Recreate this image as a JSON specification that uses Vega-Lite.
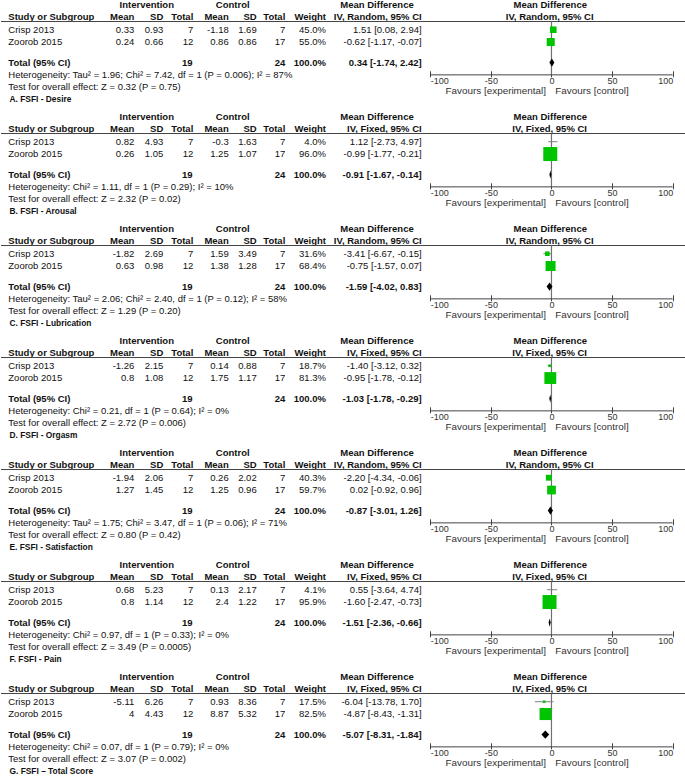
{
  "$schema": "https://vega.github.io/schema/vega-lite/v6.json",
  "padding": 0,
  "background": "white",
  "data": {"values": [
    {"panel":"A","kind":"study","row":"Crisp 2013","im":0.33,"isd":0.93,"inn":7,"cm":-1.18,"csd":1.69,"cn":7,"w":45.0,"md":1.51,"lo":0.08,"hi":2.94,"ci":"1.51 [0.08, 2.94]"},
    {"panel":"A","kind":"study","row":"Zoorob 2015","im":0.24,"isd":0.66,"inn":12,"cm":0.86,"csd":0.86,"cn":17,"w":55.0,"md":-0.62,"lo":-1.17,"hi":-0.07,"ci":"-0.62 [-1.17, -0.07]"},
    {"panel":"A","kind":"total","row":"Total (95% CI)","inn":19,"cn":24,"w":100,"md":0.34,"lo":-1.74,"hi":2.42,"ci":"0.34 [-1.74, 2.42]","method":"IV, Random, 95% CI","het":"Heterogeneity: Tau² = 1.96; Chi² = 7.42, df = 1 (P = 0.006); I² = 87%","test":"Test for overall effect: Z = 0.32 (P = 0.75)","label":"A. FSFI - Desire"},
    {"panel":"B","kind":"study","row":"Crisp 2013","im":0.82,"isd":4.93,"inn":7,"cm":-0.3,"csd":1.63,"cn":7,"w":4.0,"md":1.12,"lo":-2.73,"hi":4.97,"ci":"1.12 [-2.73, 4.97]"},
    {"panel":"B","kind":"study","row":"Zoorob 2015","im":0.26,"isd":1.05,"inn":12,"cm":1.25,"csd":1.07,"cn":17,"w":96.0,"md":-0.99,"lo":-1.77,"hi":-0.21,"ci":"-0.99 [-1.77, -0.21]"},
    {"panel":"B","kind":"total","row":"Total (95% CI)","inn":19,"cn":24,"w":100,"md":-0.91,"lo":-1.67,"hi":-0.14,"ci":"-0.91 [-1.67, -0.14]","method":"IV, Fixed, 95% CI","het":"Heterogeneity: Chi² = 1.11, df = 1 (P = 0.29); I² = 10%","test":"Test for overall effect: Z = 2.32 (P = 0.02)","label":"B. FSFI - Arousal"},
    {"panel":"C","kind":"study","row":"Crisp 2013","im":-1.82,"isd":2.69,"inn":7,"cm":1.59,"csd":3.49,"cn":7,"w":31.6,"md":-3.41,"lo":-6.67,"hi":-0.15,"ci":"-3.41 [-6.67, -0.15]"},
    {"panel":"C","kind":"study","row":"Zoorob 2015","im":0.63,"isd":0.98,"inn":12,"cm":1.38,"csd":1.28,"cn":17,"w":68.4,"md":-0.75,"lo":-1.57,"hi":0.07,"ci":"-0.75 [-1.57, 0.07]"},
    {"panel":"C","kind":"total","row":"Total (95% CI)","inn":19,"cn":24,"w":100,"md":-1.59,"lo":-4.02,"hi":0.83,"ci":"-1.59 [-4.02, 0.83]","method":"IV, Random, 95% CI","het":"Heterogeneity: Tau² = 2.06; Chi² = 2.40, df = 1 (P = 0.12); I² = 58%","test":"Test for overall effect: Z = 1.29 (P = 0.20)","label":"C. FSFI - Lubrication"},
    {"panel":"D","kind":"study","row":"Crisp 2013","im":-1.26,"isd":2.15,"inn":7,"cm":0.14,"csd":0.88,"cn":7,"w":18.7,"md":-1.40,"lo":-3.12,"hi":0.32,"ci":"-1.40 [-3.12, 0.32]"},
    {"panel":"D","kind":"study","row":"Zoorob 2015","im":0.8,"isd":1.08,"inn":12,"cm":1.75,"csd":1.17,"cn":17,"w":81.3,"md":-0.95,"lo":-1.78,"hi":-0.12,"ci":"-0.95 [-1.78, -0.12]"},
    {"panel":"D","kind":"total","row":"Total (95% CI)","inn":19,"cn":24,"w":100,"md":-1.03,"lo":-1.78,"hi":-0.29,"ci":"-1.03 [-1.78, -0.29]","method":"IV, Fixed, 95% CI","het":"Heterogeneity: Chi² = 0.21, df = 1 (P = 0.64); I² = 0%","test":"Test for overall effect: Z = 2.72 (P = 0.006)","label":"D. FSFI - Orgasm"},
    {"panel":"E","kind":"study","row":"Crisp 2013","im":-1.94,"isd":2.06,"inn":7,"cm":0.26,"csd":2.02,"cn":7,"w":40.3,"md":-2.20,"lo":-4.34,"hi":-0.06,"ci":"-2.20 [-4.34, -0.06]"},
    {"panel":"E","kind":"study","row":"Zoorob 2015","im":1.27,"isd":1.45,"inn":12,"cm":1.25,"csd":0.96,"cn":17,"w":59.7,"md":0.02,"lo":-0.92,"hi":0.96,"ci":"0.02 [-0.92, 0.96]"},
    {"panel":"E","kind":"total","row":"Total (95% CI)","inn":19,"cn":24,"w":100,"md":-0.87,"lo":-3.01,"hi":1.26,"ci":"-0.87 [-3.01, 1.26]","method":"IV, Random, 95% CI","het":"Heterogeneity: Tau² = 1.75; Chi² = 3.47, df = 1 (P = 0.06); I² = 71%","test":"Test for overall effect: Z = 0.80 (P = 0.42)","label":"E. FSFI - Satisfaction"},
    {"panel":"F","kind":"study","row":"Crisp 2013","im":0.68,"isd":5.23,"inn":7,"cm":0.13,"csd":2.17,"cn":7,"w":4.1,"md":0.55,"lo":-3.64,"hi":4.74,"ci":"0.55 [-3.64, 4.74]"},
    {"panel":"F","kind":"study","row":"Zoorob 2015","im":0.8,"isd":1.14,"inn":12,"cm":2.4,"csd":1.22,"cn":17,"w":95.9,"md":-1.60,"lo":-2.47,"hi":-0.73,"ci":"-1.60 [-2.47, -0.73]"},
    {"panel":"F","kind":"total","row":"Total (95% CI)","inn":19,"cn":24,"w":100,"md":-1.51,"lo":-2.36,"hi":-0.66,"ci":"-1.51 [-2.36, -0.66]","method":"IV, Fixed, 95% CI","het":"Heterogeneity: Chi² = 0.97, df = 1 (P = 0.33); I² = 0%","test":"Test for overall effect: Z = 3.49 (P = 0.0005)","label":"F. FSFI - Pain"},
    {"panel":"G","kind":"study","row":"Crisp 2013","im":-5.11,"isd":6.26,"inn":7,"cm":0.93,"csd":8.36,"cn":7,"w":17.5,"md":-6.04,"lo":-13.78,"hi":1.70,"ci":"-6.04 [-13.78, 1.70]"},
    {"panel":"G","kind":"study","row":"Zoorob 2015","im":4,"isd":4.43,"inn":12,"cm":8.87,"csd":5.32,"cn":17,"w":82.5,"md":-4.87,"lo":-8.43,"hi":-1.31,"ci":"-4.87 [-8.43, -1.31]"},
    {"panel":"G","kind":"total","row":"Total (95% CI)","inn":19,"cn":24,"w":100,"md":-5.07,"lo":-8.31,"hi":-1.84,"ci":"-5.07 [-8.31, -1.84]","method":"IV, Fixed, 95% CI","het":"Heterogeneity: Chi² = 0.07, df = 1 (P = 0.79); I² = 0%","test":"Test for overall effect: Z = 3.07 (P = 0.002)","label":"G. FSFI – Total Score"}
  ]},
  "facet": {"row": {"field": "panel", "type": "nominal", "header": null, "title": null}},
  "spacing": 0,
  "resolve": {"axis": {"x": "independent"}},
  "spec": {
    "width": 685,
    "height": 110.8,
    "encoding": {
      "y": {"field": "row", "type": "nominal", "axis": null,
        "scale": {"type": "point", "padding": 1.5, "domain": ["h1","s1","s2","h2","rule","s5","Crisp 2013","s7","s8","Zoorob 2015","s10","s11","s12","dtop","Total (95% CI)","dbot","s16","het","s18","s19","test","fav","s22","label","s24","s25"]}}
    },
    "layer": [
      {
        "transform": [{"calculate": "format(datum.w, '.1f') + '%'", "as": "wt"}],
        "layer": [
          {
            "transform": [{"filter": "datum.kind == 'total'"}],
            "layer": [
              {"mark": {"type": "text", "align": "center", "fontWeight": "bold"}, "encoding": {"x": {"datum": 145.8, "type": "quantitative", "axis": null, "scale": {"domain": [0, 685], "nice": false, "zero": false}}, "y": {"datum": "h1", "type": "nominal", "axis": null}, "text": {"value": "Intervention"}}},
              {"mark": {"type": "text", "align": "center", "fontWeight": "bold"}, "encoding": {"x": {"datum": 231.7, "type": "quantitative", "axis": null}, "y": {"datum": "h1", "type": "nominal", "axis": null}, "text": {"value": "Control"}}},
              {"mark": {"type": "text", "align": "center", "fontWeight": "bold"}, "encoding": {"x": {"datum": 376, "type": "quantitative", "axis": null}, "y": {"datum": "h1", "type": "nominal", "axis": null}, "text": {"value": "Mean Difference"}}},
              {"mark": {"type": "text", "align": "left", "fontWeight": "bold"}, "encoding": {"x": {"datum": 7.3, "type": "quantitative", "axis": null}, "y": {"datum": "h2", "type": "nominal", "axis": null}, "text": {"value": "Study or Subgroup"}}},
              {"mark": {"type": "text", "align": "right", "fontWeight": "bold"}, "encoding": {"x": {"datum": 133.3, "type": "quantitative", "axis": null}, "y": {"datum": "h2", "type": "nominal", "axis": null}, "text": {"value": "Mean"}}},
              {"mark": {"type": "text", "align": "right", "fontWeight": "bold"}, "encoding": {"x": {"datum": 162.3, "type": "quantitative", "axis": null}, "y": {"datum": "h2", "type": "nominal", "axis": null}, "text": {"value": "SD"}}},
              {"mark": {"type": "text", "align": "right", "fontWeight": "bold"}, "encoding": {"x": {"datum": 192.3, "type": "quantitative", "axis": null}, "y": {"datum": "h2", "type": "nominal", "axis": null}, "text": {"value": "Total"}}},
              {"mark": {"type": "text", "align": "right", "fontWeight": "bold"}, "encoding": {"x": {"datum": 227.7, "type": "quantitative", "axis": null}, "y": {"datum": "h2", "type": "nominal", "axis": null}, "text": {"value": "Mean"}}},
              {"mark": {"type": "text", "align": "right", "fontWeight": "bold"}, "encoding": {"x": {"datum": 255.7, "type": "quantitative", "axis": null}, "y": {"datum": "h2", "type": "nominal", "axis": null}, "text": {"value": "SD"}}},
              {"mark": {"type": "text", "align": "right", "fontWeight": "bold"}, "encoding": {"x": {"datum": 284.3, "type": "quantitative", "axis": null}, "y": {"datum": "h2", "type": "nominal", "axis": null}, "text": {"value": "Total"}}},
              {"mark": {"type": "text", "align": "right", "fontWeight": "bold"}, "encoding": {"x": {"datum": 325, "type": "quantitative", "axis": null}, "y": {"datum": "h2", "type": "nominal", "axis": null}, "text": {"value": "Weight"}}},
              {"mark": {"type": "text", "align": "right", "fontWeight": "bold"}, "encoding": {"x": {"datum": 420.7, "type": "quantitative", "axis": null}, "y": {"datum": "h2", "type": "nominal", "axis": null}, "text": {"field": "method", "type": "nominal"}}},
              {"mark": {"type": "rule", "color": "#444444", "strokeWidth": 1}, "encoding": {"x": {"datum": 0, "type": "quantitative", "axis": null}, "x2": {"datum": 685}, "y": {"datum": "rule", "type": "nominal", "axis": null}}},
              {"mark": {"type": "text", "align": "left", "fontWeight": "bold"}, "encoding": {"x": {"datum": 7.3, "type": "quantitative", "axis": null}, "text": {"field": "row", "type": "nominal"}}},
              {"mark": {"type": "text", "align": "right", "fontWeight": "bold"}, "encoding": {"x": {"datum": 191.5, "type": "quantitative", "axis": null}, "text": {"field": "inn", "type": "nominal"}}},
              {"mark": {"type": "text", "align": "right", "fontWeight": "bold"}, "encoding": {"x": {"datum": 284.3, "type": "quantitative", "axis": null}, "text": {"field": "cn", "type": "nominal"}}},
              {"mark": {"type": "text", "align": "right", "fontWeight": "bold"}, "encoding": {"x": {"datum": 325, "type": "quantitative", "axis": null}, "text": {"field": "wt", "type": "nominal"}}},
              {"mark": {"type": "text", "align": "right", "fontWeight": "bold"}, "encoding": {"x": {"datum": 420.7, "type": "quantitative", "axis": null}, "text": {"field": "ci", "type": "nominal"}}},
              {"mark": {"type": "text", "align": "left"}, "encoding": {"x": {"datum": 7.3, "type": "quantitative", "axis": null}, "y": {"datum": "het", "type": "nominal", "axis": null}, "text": {"field": "het", "type": "nominal"}}},
              {"mark": {"type": "text", "align": "left"}, "encoding": {"x": {"datum": 7.3, "type": "quantitative", "axis": null}, "y": {"datum": "test", "type": "nominal", "axis": null}, "text": {"field": "test", "type": "nominal"}}},
              {"mark": {"type": "text", "align": "left", "fontWeight": "bold", "font": "Liberation Sans", "fontSize": 8.4}, "encoding": {"x": {"datum": 8.5, "type": "quantitative", "axis": null}, "y": {"datum": "label", "type": "nominal", "axis": null}, "text": {"field": "label", "type": "nominal"}}}
            ]
          },
          {
            "transform": [{"filter": "datum.kind == 'study'"}],
            "layer": [
              {"mark": {"type": "text", "align": "left"}, "encoding": {"x": {"datum": 7.3, "type": "quantitative", "axis": null}, "text": {"field": "row", "type": "nominal"}}},
              {"mark": {"type": "text", "align": "right"}, "encoding": {"x": {"datum": 133.3, "type": "quantitative", "axis": null}, "text": {"field": "im", "type": "nominal"}}},
              {"mark": {"type": "text", "align": "right"}, "encoding": {"x": {"datum": 162.3, "type": "quantitative", "axis": null}, "text": {"field": "isd", "type": "nominal"}}},
              {"mark": {"type": "text", "align": "right"}, "encoding": {"x": {"datum": 192.3, "type": "quantitative", "axis": null}, "text": {"field": "inn", "type": "nominal"}}},
              {"mark": {"type": "text", "align": "right"}, "encoding": {"x": {"datum": 227.7, "type": "quantitative", "axis": null}, "text": {"field": "cm", "type": "nominal"}}},
              {"mark": {"type": "text", "align": "right"}, "encoding": {"x": {"datum": 255.7, "type": "quantitative", "axis": null}, "text": {"field": "csd", "type": "nominal"}}},
              {"mark": {"type": "text", "align": "right"}, "encoding": {"x": {"datum": 284.3, "type": "quantitative", "axis": null}, "text": {"field": "cn", "type": "nominal"}}},
              {"mark": {"type": "text", "align": "right"}, "encoding": {"x": {"datum": 325, "type": "quantitative", "axis": null}, "text": {"field": "wt", "type": "nominal"}}},
              {"mark": {"type": "text", "align": "right"}, "encoding": {"x": {"datum": 420.7, "type": "quantitative", "axis": null}, "text": {"field": "ci", "type": "nominal"}}}
            ]
          }
        ]
      },
      {
        "layer": [
          {
            "transform": [{"filter": "datum.kind == 'total'"}],
            "resolve": {"axis": {"x": "independent"}},
            "layer": [
              {"mark": {"type": "rule", "color": "#707070", "strokeWidth": 1.2},
               "encoding": {
                 "x": {"datum": 0, "type": "quantitative",
                   "scale": {"domain": [-454.2, 111.0], "nice": false, "zero": false},
                   "axis": {"orient": "bottom", "values": [-50, 0, 50], "labelAlign": "center", "domain": false, "grid": false, "title": null,
                     "tickSize": 6, "tickColor": "#444444", "tickWidth": 1, "offset": -41,
                     "labelFont": "Liberation Sans", "labelFontSize": 9, "labelColor": "#333333", "labelPadding": 0,
                     "labelExpr": "datum.value + ''", "labelOverlap": false, "labelFlush": false}},
                 "y": {"datum": "rule", "type": "nominal", "axis": null},
                 "y2": {"datum": "het"}}},
              {"mark": {"type": "rule", "color": "#444444", "strokeWidth": 1},
               "encoding": {
                 "x": {"datum": -100, "type": "quantitative",
                   "axis": {"orient": "bottom", "values": [-100], "labelAlign": "left", "domain": false, "grid": false, "title": null,
                     "tickSize": 6, "tickColor": "#444444", "tickWidth": 1, "offset": -41,
                     "labelFont": "Liberation Sans", "labelFontSize": 9, "labelColor": "#333333", "labelPadding": 0,
                     "labelExpr": "datum.value + ''", "labelOverlap": false, "labelFlush": false}},
                 "x2": {"datum": 100},
                 "y": {"datum": "het", "type": "nominal", "axis": null}}},
              {"mark": {"type": "text", "align": "center", "fontWeight": "bold"},
               "encoding": {
                 "x": {"datum": -1, "type": "quantitative",
                   "axis": {"orient": "bottom", "values": [100], "labelAlign": "right", "domain": false, "grid": false, "title": null,
                     "tickSize": 6, "tickColor": "#444444", "tickWidth": 1, "offset": -41,
                     "labelFont": "Liberation Sans", "labelFontSize": 9, "labelColor": "#333333", "labelPadding": 0,
                     "labelExpr": "datum.value + ''", "labelOverlap": false, "labelFlush": false}},
                 "y": {"datum": "h1", "type": "nominal", "axis": null},
                 "text": {"value": "Mean Difference"}}},
              {"mark": {"type": "text", "align": "center", "fontWeight": "bold"}, "encoding": {"x": {"datum": -1.5, "type": "quantitative", "axis": null}, "y": {"datum": "h2", "type": "nominal", "axis": null}, "text": {"field": "method", "type": "nominal"}}},
              {"mark": {"type": "text", "align": "right", "color": "#333333", "fontSize": 9.9}, "encoding": {"x": {"datum": -4.5, "type": "quantitative", "axis": null}, "y": {"datum": "fav", "type": "nominal", "axis": null}, "text": {"value": "Favours [experimental]"}}},
              {"mark": {"type": "text", "align": "left", "color": "#333333", "fontSize": 9.9}, "encoding": {"x": {"datum": 3.1, "type": "quantitative", "axis": null}, "y": {"datum": "fav", "type": "nominal", "axis": null}, "text": {"value": "Favours [control]"}}},
              {"transform": [
                 {"fold": ["lo", "md", "hi"], "as": ["k", "v"]},
                 {"calculate": "datum.k == 'lo' ? 'dtop' : (datum.k == 'md' ? 'Total (95% CI)' : 'dbot')", "as": "dy"},
                 {"calculate": "datum.k == 'md' ? datum.lo : datum.md", "as": "xa"},
                 {"calculate": "datum.k == 'md' ? datum.hi : datum.md", "as": "xb"}],
               "mark": {"type": "area", "orient": "horizontal", "color": "#000000"},
               "encoding": {"x": {"field": "xa", "type": "quantitative", "axis": null}, "x2": {"field": "xb"}, "y": {"field": "dy", "type": "nominal", "axis": null}, "order": {"value": null}}}
            ]
          },
          {
            "transform": [{"filter": "datum.kind == 'study'"}],
            "layer": [
              {"mark": {"type": "rule", "color": "#808080", "strokeWidth": 1}, "encoding": {"x": {"field": "lo", "type": "quantitative", "axis": null}, "x2": {"field": "hi"}}},
              {"mark": {"type": "point", "shape": "square", "filled": true, "color": "#00c400", "opacity": 1, "strokeWidth": 0},
               "encoding": {"x": {"field": "md", "type": "quantitative", "axis": null},
                 "size": {"field": "w", "type": "quantitative", "legend": null, "scale": {"type": "pow", "exponent": 2, "domain": [0, 100], "range": [0, 213]}}}}
            ]
          }
        ]
      }
    ],
    "resolve": {"scale": {"x": "independent"}}
  },
  "config": {
    "view": {"stroke": null},
    "text": {"font": "Liberation Sans", "fontSize": 9.5, "color": "#111111", "baseline": "middle"}
  }
}
